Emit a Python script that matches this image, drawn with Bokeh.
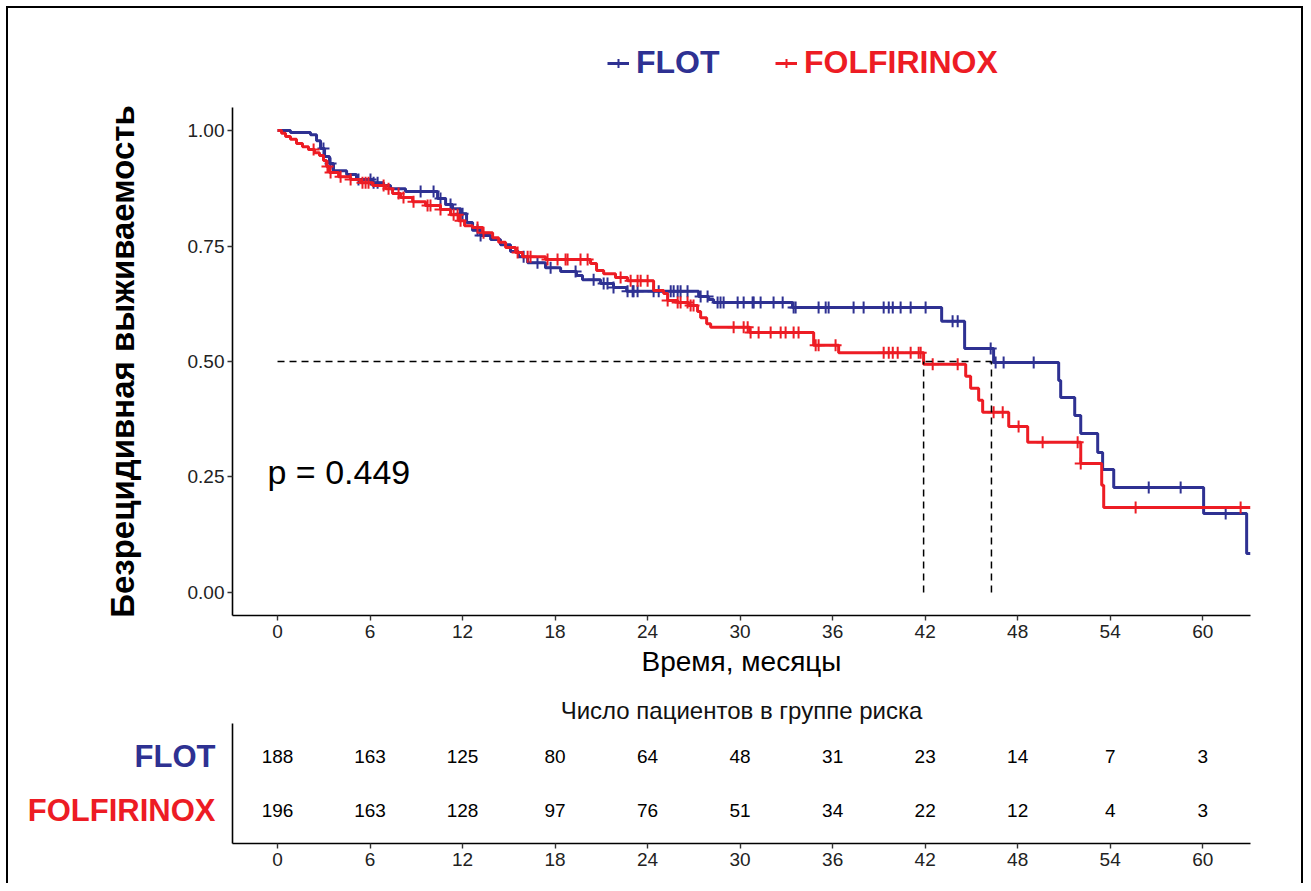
import numpy as np
from bokeh.plotting import figure
from bokeh.models import (FixedTicker, Label, Legend, LegendItem, Range1d,
                          NumeralTickFormatter, ColumnDataSource)
from bokeh.layouts import column, row
from bokeh.embed import file_html
from bokeh.resources import INLINE
from bokeh.core.properties import value

FONT = "Liberation Sans"
BLUE = "#2E3192"
RED = "#ED1C24"

# ---------------- data ----------------
series_names = ["FLOT", "FOLFIRINOX"]

flot_time = [0, 0.84, 2.14, 2.53, 2.79, 3.05, 3.37, 3.63, 4.48, 5.12, 6.16, 6.88, 7.33,
             8.30, 10.38, 10.90, 11.35, 11.87, 12.26, 12.65, 13.17, 13.82, 14.46, 15.11,
             15.63, 16.22, 17.38, 18.36, 19.39, 19.78, 20.95, 21.79, 22.64, 27.31, 27.96,
             28.28, 33.40, 43.07, 44.56, 46.44, 50.66, 50.79, 51.70, 52.09, 53.19, 53.51,
             54.23, 60.06, 62.85]
flot_surv = [1.000, 0.996, 0.991, 0.978, 0.961, 0.944, 0.929, 0.913, 0.905, 0.894, 0.887,
             0.881, 0.874, 0.868, 0.853, 0.840, 0.831, 0.820, 0.801, 0.784, 0.773, 0.764,
             0.753, 0.738, 0.727, 0.714, 0.703, 0.695, 0.686, 0.677, 0.669, 0.660, 0.652,
             0.641, 0.634, 0.628, 0.617, 0.587, 0.528, 0.498, 0.459, 0.422, 0.383, 0.344,
             0.303, 0.266, 0.227, 0.171, 0.084]
flot_censor = [2.98, 3.44, 5.25, 6.03, 6.23, 6.49, 9.28, 10.12, 10.57, 11.22, 11.87, 12.0,
               12.97, 13.17, 15.96, 16.86, 17.71, 19.33, 20.50, 21.15, 21.40, 21.79, 22.70,
               23.03, 23.09, 23.35, 24.39, 24.72, 25.50, 25.69, 25.95, 26.14, 26.59, 27.44,
               27.89, 28.54, 28.73, 28.93, 29.84, 30.23, 30.81, 30.88, 31.33, 32.17, 32.76,
               33.47, 33.60, 35.09, 35.55, 35.74, 37.36, 38.01, 39.31, 39.64, 39.90, 40.41,
               41.06, 42.03, 43.78, 44.11, 46.25, 46.57, 47.09, 49.04, 56.50, 58.57, 61.49]

folf_time = [0, 0.26, 0.52, 0.84, 1.23, 1.62, 2.01, 2.40, 2.72, 2.98, 3.18, 3.37, 3.96,
             4.74, 5.38, 6.16, 7.01, 7.46, 7.98, 8.76, 9.60, 10.57, 11.22, 11.74, 12.13,
             12.65, 13.30, 13.95, 14.34, 14.79, 15.44, 15.89, 17.38, 20.30, 20.69, 21.15,
             21.92, 22.70, 24.39, 25.04, 25.30, 25.95, 26.66, 27.24, 27.44, 27.83, 28.09,
             30.62, 34.77, 36.39, 41.90, 44.63, 44.95, 45.47, 45.73, 47.42, 48.65, 52.09,
             53.45, 53.58]
folf_surv = [1.000, 0.994, 0.987, 0.981, 0.972, 0.965, 0.959, 0.952, 0.946, 0.935, 0.922,
             0.909, 0.900, 0.894, 0.887, 0.881, 0.874, 0.864, 0.855, 0.846, 0.838, 0.829,
             0.818, 0.805, 0.794, 0.790, 0.779, 0.768, 0.758, 0.747, 0.736, 0.727, 0.721,
             0.712, 0.697, 0.690, 0.682, 0.675, 0.654, 0.647, 0.632, 0.628, 0.621, 0.608,
             0.595, 0.582, 0.574, 0.563, 0.535, 0.519, 0.494, 0.468, 0.442, 0.416, 0.390,
             0.359, 0.325, 0.279, 0.232, 0.184]
folf_censor = [2.34, 3.24, 3.44, 4.09, 4.74, 5.51, 5.71, 5.90, 6.88, 7.20, 7.85, 8.17, 8.82,
               9.73, 9.92, 10.57, 11.42, 11.68, 11.87, 12.97, 13.36, 15.57, 16.22, 16.41,
               17.51, 18.16, 18.68, 18.81, 19.65, 20.11, 22.25, 22.90, 23.35, 23.55, 24.0,
               25.30, 25.95, 26.14, 26.59, 26.79, 26.98, 29.58, 30.23, 30.49, 30.68, 31.20,
               31.98, 32.63, 32.95, 33.47, 33.79, 34.90, 35.09, 36.19, 39.31, 39.64, 39.90,
               40.22, 41.06, 41.58, 41.71, 42.49, 44.11, 46.44, 47.03, 48.06, 49.62, 51.89,
               52.09, 55.65, 62.46]

follow_up_end = 63.1
medians = [46.3, 41.9]          # FLOT, FOLFIRINOX
p_text = "p = 0.449"

x_ticks = [0, 6, 12, 18, 24, 30, 36, 42, 48, 54, 60]
y_ticks = [0.0, 0.25, 0.5, 0.75, 1.0]
risk_flot = [188, 163, 125, 80, 64, 48, 31, 23, 14, 7, 3]
risk_folf = [196, 163, 128, 97, 76, 51, 34, 22, 12, 4, 3]

y_title = "Безрецидивная выживаемость"
x_title = "Время, месяцы"
table_title = "Число пациентов в группе риска"

# ---------------- helpers ----------------
X0, X1 = -2.92, 63.1
W = 1293
ML, MR = 224, 51


def style_axes(p):
    for ax in (p.xaxis[0], p.yaxis[0]):
        ax.axis_line_color = "black"
        ax.axis_line_width = 1.6
        ax.major_tick_line_color = "#333333"
        ax.major_tick_line_width = 1.4
        ax.major_tick_in = 0
        ax.major_tick_out = 5
        ax.minor_tick_line_color = None
        ax.major_label_text_font = FONT
        ax.major_label_text_font_size = "19px"
        ax.major_label_text_color = "#222222"
        ax.axis_label_text_font = FONT
        ax.axis_label_text_font_style = "normal"
        ax.axis_label_text_color = "black"
    p.xgrid.grid_line_color = None
    p.ygrid.grid_line_color = None
    p.outline_line_color = None
    p.background_fill_color = "white"
    p.border_fill_color = "white"


def blank(p):
    p.axis.visible = False
    p.xgrid.grid_line_color = None
    p.ygrid.grid_line_color = None
    p.outline_line_color = None
    p.background_fill_color = "white"
    p.border_fill_color = "white"


def km_level(times, surv, t):
    idx = np.searchsorted(np.asarray(times), np.asarray(t), side="right") - 1
    return np.asarray(surv)[idx]


# ---------------- legend strip ----------------
LH = 89
pl = figure(width=W, height=LH, x_range=Range1d(X0, X1), y_range=Range1d(-0.05, 1.05),
            output_backend="svg", toolbar_location=None,
            min_border_left=ML, min_border_right=MR, min_border_top=0, min_border_bottom=0)
blank(pl)

# ---------------- KM plot ----------------
p1 = figure(width=W, height=593, x_range=Range1d(X0, X1), y_range=Range1d(-0.05, 1.05),
            output_backend="svg", toolbar_location=None,
            min_border_left=ML, min_border_right=MR, min_border_top=10, min_border_bottom=75)
style_axes(p1)
p1.xaxis.ticker = FixedTicker(ticks=x_ticks)
p1.yaxis.ticker = FixedTicker(ticks=y_ticks)
p1.yaxis.formatter = NumeralTickFormatter(format="0.00")
p1.xaxis.axis_label = x_title
p1.xaxis.axis_label_text_font_size = "28px"
p1.xaxis.axis_label_standoff = 5
p1.xaxis.major_label_standoff = 4
p1.yaxis.axis_label = y_title
p1.yaxis.axis_label_text_font_size = "33px"
p1.yaxis.axis_label_text_font_style = "bold"
p1.yaxis.axis_label_standoff = 44
p1.yaxis.major_label_standoff = 3

leg_pos = [(375, 16), (543, 16)]
for name, tt, ss, cc, col, loc in [("FLOT", flot_time, flot_surv, flot_censor, BLUE, leg_pos[0]),
                                   ("FOLFIRINOX", folf_time, folf_surv, folf_censor, RED, leg_pos[1])]:
    xs = list(tt) + [follow_up_end]
    ys = list(ss) + [ss[-1]]
    p1.step(xs, ys, mode="after", line_color=col, line_width=3)
    cy = km_level(tt, ss, cc)
    p1.scatter(cc, cy, marker="cross", size=12, line_color=col, line_width=2)
    # legend keys: hidden copies of the same series, styled like the curves
    kl = pl.line(xs, ys, line_color=col, line_width=3, visible=False)
    kc = pl.scatter(cc, cy, marker="cross", size=12, line_color=col, line_width=2,
                    visible=False)
    lg = Legend(items=[LegendItem(label=name, renderers=[kl, kc])], location=loc,
                orientation="horizontal", glyph_width=22, glyph_height=24,
                label_text_font=FONT, label_text_font_size="32px",
                label_text_font_style="bold", label_text_color=col,
                label_standoff=7, padding=0, margin=0, border_line_color=None,
                background_fill_alpha=0, inactive_fill_alpha=0)
    pl.add_layout(lg, "center")

# median guide lines
p1.segment(x0=[0], y0=[0.5], x1=[max(medians)], y1=[0.5], line_color="black",
           line_width=1.5, line_dash="7 5")
p1.segment(x0=medians, y0=[0.0, 0.0], x1=medians, y1=[0.5, 0.5], line_color="black",
           line_width=1.5, line_dash="7 5")

p1.add_layout(Label(x=-0.65, y=0.26, text=p_text, text_font=FONT, text_font_size="34px",
                    text_baseline="middle", text_color="black"))

# ---------------- risk table ----------------
LABW = 212
TOP, BOT, FRH = 33, 40, 120
p2 = figure(width=W - LABW, height=TOP + FRH + BOT, x_range=Range1d(X0, X1),
            y_range=Range1d(0.4, 2.6), output_backend="svg", toolbar_location=None,
            min_border_left=ML - LABW, min_border_right=MR, min_border_top=TOP,
            min_border_bottom=BOT)
style_axes(p2)
p2.xaxis.ticker = FixedTicker(ticks=x_ticks)
p2.xaxis.major_label_standoff = 4
p2.yaxis.ticker = FixedTicker(ticks=[])
p2.title.text = table_title
p2.title.text_font = FONT
p2.title.text_font_size = "24px"
p2.title.text_font_style = "normal"
p2.title.text_color = "#111111"
p2.title.align = "center"
p2.title.standoff = 0
p2.title.offset = -4

tbl = ColumnDataSource(dict(x=x_ticks + x_ticks,
                            y=[2] * len(x_ticks) + [1] * len(x_ticks),
                            n=[str(v) for v in risk_flot + risk_folf]))
p2.text(x="x", y="y", text="n", source=tbl, text_font=value(FONT),
        text_font_size="19px", text_align="center", text_baseline="middle",
        text_color="black")

plab = figure(width=LABW, height=TOP + FRH + BOT, x_range=Range1d(0, LABW),
              y_range=Range1d(0.4, 2.6), output_backend="svg", toolbar_location=None,
              min_border_left=0, min_border_right=0, min_border_top=TOP,
              min_border_bottom=BOT)
blank(plab)
lab = ColumnDataSource(dict(x=[207, 207], y=[2, 1], t=series_names, c=[BLUE, RED]))
plab.text(x="x", y="y", text="t", text_color="c", source=lab, text_font=value(FONT),
          text_font_size="31px", text_font_style="bold", text_align="right",
          text_baseline="middle")

layout = column(pl, p1, row(plab, p2),
                styles={"margin-left": "6px", "margin-top": "6px",
                        "border-left": "2px solid black",
                        "border-top": "2px solid black",
                        "border-right": "2px solid black",
                        "background-color": "white"})

open("out.html", "w").write(file_html(layout, INLINE))
